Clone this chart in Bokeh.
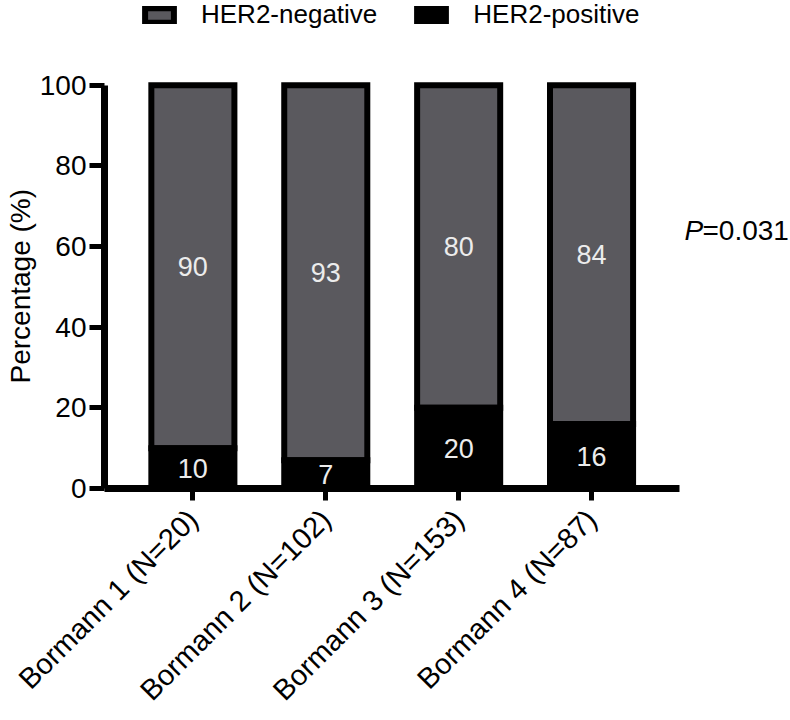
import math
from bokeh.plotting import figure
from bokeh.models import Range1d, Legend, LegendItem, Label, Title, ColumnDataSource, FixedTicker
from bokeh.core.properties import value
from bokeh.embed import file_html
from bokeh.resources import INLINE

categories = ["Bormann 1 (N=20)", "Bormann 2 (N=102)", "Bormann 3 (N=153)", "Bormann 4 (N=87)"]
her2_negative = [90, 93, 80, 84]
her2_positive = [10, 7, 20, 16]
y_ticks = [0, 20, 40, 60, 80, 100]
y_label = "Percentage (%)"
p_letter = "P"
p_text = "=0.031"

FONT = "Liberation Sans"
GRAY = "#5a595e"

idx = list(range(len(categories)))
pos_mid = [v / 2 for v in her2_positive]
neg_mid = [p + n / 2 for p, n in zip(her2_positive, her2_negative)]
total = [p + n for p, n in zip(her2_positive, her2_negative)]

src = ColumnDataSource(dict(
    x=idx, pos=her2_positive, neg=her2_negative, total=total,
    pos_mid=pos_mid, neg_mid=neg_mid,
    pos_lbl=[str(v) for v in her2_positive], neg_lbl=[str(v) for v in her2_negative],
))

p = figure(x_range=Range1d(-0.665, 4.497), y_range=Range1d(0, 121),
           width=790, height=720, output_backend="svg", toolbar_location=None,
           min_border_left=104, min_border_right=0, min_border_top=0, min_border_bottom=230)
p.outline_line_color = None
p.grid.grid_line_color = None
p.background_fill_color = None
p.border_fill_color = "white"

bar_w = 0.625
neg_r = p.vbar(x="x", bottom="pos", top="total", width=bar_w, source=src,
               fill_color=GRAY, line_color="black", line_width=6, line_join="miter")
pos_r = p.vbar(x="x", bottom=0, top="pos", width=bar_w, source=src,
               fill_color="black", line_color="black", line_width=6, line_join="miter")

p.text(x="x", y="neg_mid", text="neg_lbl", source=src, text_color="#ececec",
       text_font=value(FONT), text_font_size="27px", text_align="center", text_baseline="middle")
p.text(x="x", y="pos_mid", text="pos_lbl", source=src, text_color="#ececec",
       text_font=value(FONT), text_font_size="27px", text_align="center", text_baseline="middle")

for ax in (p.xaxis[0], p.yaxis[0]):
    ax.axis_line_width = 7
    ax.axis_line_color = "black"
    ax.major_tick_line_width = 5
    ax.major_tick_line_color = "black"
    ax.major_tick_in = 0
    ax.minor_tick_line_color = None
    ax.major_label_text_font = FONT
    ax.major_label_text_font_size = "28px"
    ax.major_label_text_color = "black"

p.yaxis.ticker = FixedTicker(ticks=y_ticks)
p.yaxis.bounds = (y_ticks[0], y_ticks[-1])
p.yaxis.major_tick_out = 15
p.yaxis.major_label_standoff = 3

# y-axis title, aligned along the bounded part of the axis
p.add_layout(Title(text=y_label, align="left", offset=105, text_font=FONT,
                   text_font_size="28px", text_font_style="normal", text_color="black",
                   standoff=2), "left")

p.xaxis.ticker = FixedTicker(ticks=idx)
p.xaxis.major_label_overrides = {i: c for i, c in zip(idx, categories)}
p.xaxis.bounds = (-0.665, len(categories) - 1 + 0.665)
p.xaxis.major_tick_out = 12
p.xaxis.major_label_orientation = math.pi / 4
p.xaxis.major_label_standoff = 14
p.xaxis.major_label_text_font_size = "29px"

legend = Legend(items=[LegendItem(label="HER2-negative", renderers=[neg_r]),
                       LegendItem(label="HER2-positive", renderers=[pos_r])],
                orientation="horizontal", location=(37, 458),
                label_text_font=FONT, label_text_font_size="26px", label_text_color="black",
                glyph_width=36, glyph_height=18, spacing=36, label_standoff=24,
                padding=0, margin=0, border_line_color=None, background_fill_alpha=0)
p.add_layout(legend, "center")

p.add_layout(Label(x=580, y=64, x_units="screen", y_units="data", text=p_letter,
                   text_font=FONT, text_font_size="28px", text_font_style="italic",
                   text_color="black", text_baseline="middle", text_align="left"))
p.add_layout(Label(x=598, y=64, x_units="screen", y_units="data", text=p_text,
                   text_font=FONT, text_font_size="28px", text_color="black",
                   text_baseline="middle", text_align="left"))

open("out.html", "w").write(file_html(p, INLINE))
